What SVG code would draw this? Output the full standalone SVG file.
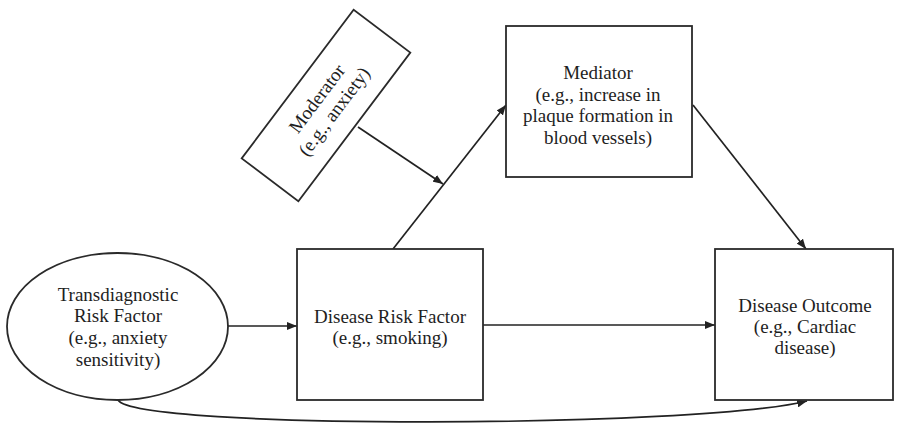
<svg xmlns="http://www.w3.org/2000/svg" width="897" height="427" viewBox="0 0 897 427">
  <style>
    .box { fill: #ffffff; stroke: #2a2a2a; stroke-width: 1.8; }
    .lbl { font-family: "Liberation Serif", "Times New Roman", serif; font-size: 19px; fill: #1e1e1e; text-anchor: middle; }
    .edge { fill: none; stroke: #222222; stroke-width: 1.7; }
  </style>
  <defs>
    <marker id="arrow" viewBox="0 0 10 8" refX="10" refY="4" markerWidth="10" markerHeight="8" markerUnits="userSpaceOnUse" orient="auto">
      <path d="M0,0 L10,4 L0,8 Z" fill="#222222"/>
    </marker>
  </defs>
  <rect width="897" height="427" fill="#ffffff"/>

  <!-- connectors -->
  <g id="connectors">
    <line class="edge" x1="228" y1="326" x2="297" y2="326" marker-end="url(#arrow)"/>
    <line class="edge" x1="483" y1="325" x2="715" y2="325" marker-end="url(#arrow)"/>
    <line class="edge" x1="393" y1="249" x2="506" y2="105" marker-end="url(#arrow)"/>
    <line class="edge" x1="358" y1="127" x2="443" y2="184" marker-end="url(#arrow)"/>
    <line class="edge" x1="693" y1="105" x2="806" y2="249" marker-end="url(#arrow)"/>
    <path class="edge" d="M118,400 C135,430 700,428 807,401" marker-end="url(#arrow)"/>
  </g>

  <!-- transdiagnostic risk factor -->
  <g id="transdiagnostic">
    <ellipse class="box" cx="117.5" cy="326.5" rx="110.5" ry="73.5"/>
    <text class="lbl" x="118" y="300.5">Transdiagnostic</text>
    <text class="lbl" x="118" y="321.5">Risk Factor</text>
    <text class="lbl" x="118" y="343.5">(e.g., anxiety</text>
    <text class="lbl" x="118" y="365.5">sensitivity)</text>
  </g>

  <!-- disease risk factor -->
  <g id="disease-risk">
    <rect class="box" x="297" y="249" width="186" height="151"/>
    <text class="lbl" x="390" y="322.5">Disease Risk Factor</text>
    <text class="lbl" x="390" y="343.5">(e.g., smoking)</text>
  </g>

  <!-- moderator (tilted box) -->
  <g id="moderator" transform="translate(326,105.5) rotate(-53)">
    <rect class="box" x="-93" y="-35.5" width="186" height="71"/>
    <text class="lbl" x="0" y="-5">Moderator</text>
    <text class="lbl" x="0" y="16.5">(e.g., anxiety)</text>
  </g>

  <!-- mediator -->
  <g id="mediator">
    <rect class="box" x="506" y="26" width="186" height="151"/>
    <text class="lbl" x="598" y="79">Mediator</text>
    <text class="lbl" x="598" y="100.5">(e.g., increase in</text>
    <text class="lbl" x="598" y="122">plaque formation in</text>
    <text class="lbl" x="598" y="143.5">blood vessels)</text>
  </g>

  <!-- disease outcome -->
  <g id="disease-outcome">
    <rect class="box" x="715" y="249" width="178" height="151"/>
    <text class="lbl" x="805" y="312">Disease Outcome</text>
    <text class="lbl" x="805" y="333">(e.g., Cardiac</text>
    <text class="lbl" x="805" y="353.5">disease)</text>
  </g>
</svg>
